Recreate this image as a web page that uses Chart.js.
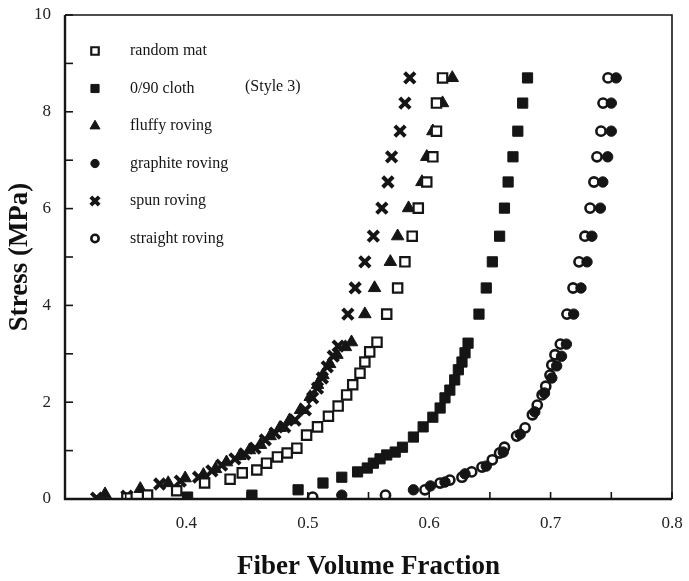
<!DOCTYPE html>
<html>
<head>
<meta charset="utf-8">
<script src="https://cdn.jsdelivr.net/npm/chart.js@4.4.0/dist/chart.umd.min.js"></script>
<style>
  html, body { margin: 0; padding: 0; background: #fff; }
  #wrap { width: 689px; height: 581px; }
</style>
</head>
<body>
<div id="wrap"><canvas id="graphic" width="689" height="581"></canvas></div>
<script>
// stress levels shared by the vertical (upper) part of every curve
const upperStress = [3.82, 4.36, 4.90, 5.43, 6.01, 6.55, 7.07, 7.60, 8.18, 8.70]

const randomUpperX   = [0.565, 0.574, 0.580, 0.586, 0.591, 0.598, 0.603, 0.606, 0.606, 0.611]
const clothUpperX    = [0.641, 0.647, 0.652, 0.658, 0.662, 0.665, 0.669, 0.673, 0.677, 0.681]
const fluffyUpperX   = [0.547, 0.555, 0.568, 0.574, 0.583, 0.594, 0.598, 0.603, 0.611, 0.619]
const graphiteUpperX = [0.719, 0.725, 0.730, 0.734, 0.741, 0.743, 0.747, 0.750, 0.750, 0.754]
const spunUpperX     = [0.533, 0.539, 0.547, 0.554, 0.561, 0.566, 0.569, 0.576, 0.580, 0.584]
const straightUpperX = [0.7135, 0.7185, 0.7234, 0.7283, 0.7325, 0.7357, 0.7382, 0.7415, 0.7432, 0.7473]

// lower (curved) part of each series
const randomLowX = [0.351, 0.368, 0.392, 0.415, 0.436, 0.446, 0.458, 0.466, 0.475, 0.483, 0.491, 0.499, 0.508, 0.517, 0.525, 0.532, 0.537, 0.543, 0.547, 0.551, 0.557]
const randomLowY = [0.02, 0.08, 0.17, 0.33, 0.41, 0.54, 0.60, 0.74, 0.87, 0.95, 1.05, 1.32, 1.49, 1.71, 1.92, 2.15, 2.36, 2.60, 2.83, 3.04, 3.24]

const clothLowX = [0.401, 0.454, 0.492, 0.5125, 0.528, 0.541, 0.549, 0.554, 0.5595, 0.565, 0.572, 0.578, 0.587, 0.595, 0.603, 0.609, 0.613, 0.617, 0.621, 0.624, 0.627, 0.6295, 0.632]
const clothLowY = [0.04, 0.08, 0.19, 0.33, 0.45, 0.56, 0.64, 0.74, 0.83, 0.91, 0.97, 1.07, 1.28, 1.49, 1.69, 1.88, 2.09, 2.25, 2.46, 2.67, 2.83, 3.02, 3.22]

const fluffyLowX = [0.333, 0.362, 0.385, 0.399, 0.414, 0.424, 0.433, 0.444, 0.452, 0.461, 0.469, 0.477, 0.485, 0.494, 0.502, 0.508, 0.5125, 0.518, 0.524, 0.531, 0.536]
const fluffyLowY = [0.10, 0.21, 0.33, 0.43, 0.50, 0.62, 0.76, 0.89, 1.01, 1.12, 1.30, 1.47, 1.63, 1.84, 2.11, 2.36, 2.56, 2.79, 2.98, 3.14, 3.24]

const graphiteLowX = [0.528, 0.587, 0.601, 0.613, 0.6295, 0.647, 0.661, 0.675, 0.687, 0.695, 0.701, 0.705, 0.709, 0.713]
const graphiteLowY = [0.08, 0.19, 0.27, 0.35, 0.52, 0.68, 0.97, 1.34, 1.80, 2.19, 2.50, 2.75, 2.95, 3.20]

const spunLowX = [0.326, 0.351, 0.378, 0.395, 0.410, 0.421, 0.429, 0.440, 0.448, 0.4565, 0.465, 0.473, 0.481, 0.4895, 0.498, 0.504, 0.508, 0.512, 0.516, 0.521, 0.525]
const spunLowY = [0.02, 0.06, 0.31, 0.37, 0.45, 0.58, 0.70, 0.83, 0.93, 1.05, 1.22, 1.36, 1.49, 1.63, 1.84, 2.09, 2.29, 2.50, 2.73, 2.95, 3.16]

const straightLowX = [0.504, 0.564, 0.5965, 0.609, 0.617, 0.627, 0.635, 0.6435, 0.652, 0.658, 0.662, 0.672, 0.679, 0.685, 0.689, 0.693, 0.696, 0.6995, 0.701, 0.7036, 0.708]
const straightLowY = [0.04, 0.08, 0.19, 0.33, 0.39, 0.45, 0.56, 0.66, 0.81, 0.95, 1.07, 1.30, 1.47, 1.74, 1.94, 2.15, 2.33, 2.56, 2.77, 2.98, 3.20]

const seriesNames = ['random mat', '0/90 cloth', 'fluffy roving', 'graphite roving', 'spun roving', 'straight roving']
const xTickValues = [0.4, 0.5, 0.6, 0.7, 0.8]
const yTickValues = [0, 2, 4, 6, 8, 10]

const toPoints = (lowX, lowY, upX) => {
  const pts = lowX.map((x, i) => ({ x: x, y: lowY[i] }))
  upX.forEach((x, i) => pts.push({ x: x, y: upperStress[i] }))
  return pts
}

const ink = '#151515'
const markers = [
  { style: 'rect', radius: 6.6, fill: '#fff', width: 2.2 },
  { style: 'rect', radius: 7.2, fill: ink, width: 1 },
  { style: 'triangle', radius: 7.2, fill: ink, width: 1 },
  { style: 'circle', radius: 5.2, fill: ink, width: 1 },
  { style: 'crossRot', radius: 7.4, fill: ink, width: 4 },
  { style: 'circle', radius: 4.6, fill: '#fff', width: 2.6 }
]

const seriesData = [
  toPoints(randomLowX, randomLowY, randomUpperX),
  toPoints(clothLowX, clothLowY, clothUpperX),
  toPoints(fluffyLowX, fluffyLowY, fluffyUpperX),
  toPoints(graphiteLowX, graphiteLowY, graphiteUpperX),
  toPoints(spunLowX, spunLowY, spunUpperX),
  toPoints(straightLowX, straightLowY, straightUpperX)
]

const serif = '"Liberation Serif", "Times New Roman", serif'

const frameTicks = {
  id: 'frameTicks',
  afterDatasetsDraw(chart) {
    const ctx = chart.ctx
    const a = chart.chartArea
    const xs = chart.scales.x
    const ys = chart.scales.y
    ctx.save()
    ctx.strokeStyle = ink
    ctx.lineWidth = 1.6
    ys.ticks.forEach(t => {
      const py = ys.getPixelForValue(t.value)
      ctx.beginPath(); ctx.moveTo(a.left, py); ctx.lineTo(a.left + 8, py); ctx.stroke()
    })
    xs.ticks.forEach(t => {
      const px = xs.getPixelForValue(t.value)
      ctx.beginPath(); ctx.moveTo(px, a.bottom); ctx.lineTo(px, a.bottom - 7); ctx.stroke()
    })
    ctx.lineWidth = 1.6
    ctx.beginPath()
    ctx.moveTo(a.left, a.top); ctx.lineTo(a.right, a.top); ctx.lineTo(a.right, a.bottom)
    ctx.stroke()
    ctx.lineWidth = 2.4
    ctx.beginPath()
    ctx.moveTo(a.left, a.top); ctx.lineTo(a.left, a.bottom); ctx.lineTo(a.right, a.bottom)
    ctx.stroke()
    ctx.restore()
  }
}

const insideLegend = {
  id: 'insideLegend',
  afterDraw(chart) {
    const ctx = chart.ctx
    const a = chart.chartArea
    ctx.save()
    ctx.font = '16px ' + serif
    ctx.textBaseline = 'middle'
    seriesNames.forEach((name, i) => {
      const m = markers[i]
      const y = a.top + 36 + i * 37.5
      ctx.fillStyle = m.fill
      ctx.strokeStyle = ink
      ctx.lineWidth = m.width
      Chart.helpers.drawPoint(ctx, { pointStyle: m.style, radius: m.radius * 0.8, rotation: 0, borderWidth: m.width }, a.left + 30, y)
      ctx.fillStyle = ink
      ctx.fillText(name, a.left + 65, y)
    })
    ctx.fillText('(Style 3)', a.left + 180, a.top + 36 + 37.5 - 2)
    ctx.restore()
  }
}

const noOverflow = s => {
  s.paddingTop = 0; s.paddingBottom = 0; s.paddingLeft = 0; s.paddingRight = 0
}

const ctx = document.querySelector('#graphic').getContext('2d')

new Chart(ctx, {
  type: 'scatter',
  data: {
    datasets: seriesData.map((pts, i) => ({
      label: seriesNames[i],
      data: pts,
      pointStyle: markers[i].style,
      pointRadius: markers[i].radius,
      pointBackgroundColor: markers[i].fill,
      pointBorderColor: ink,
      pointBorderWidth: markers[i].width,
      showLine: false
    }))
  },
  options: {
    responsive: false,
    animation: false,
    layout: { padding: { top: 15, right: 17, left: 0, bottom: 0 } },
    plugins: { legend: { display: false }, tooltip: { enabled: false } },
    scales: {
      x: {
        type: 'linear',
        min: 0.3,
        max: 0.8,
        afterFit: s => { s.height = 82; noOverflow(s) },
        afterBuildTicks: s => {
          const t = []
          for (let k = 0; k <= 10; k++) t.push({ value: Math.round((0.3 + k * 0.05) * 100) / 100 })
          s.ticks = t
        },
        grid: { display: false, drawTicks: false },
        border: { display: false },
        ticks: {
          padding: 14,
          color: '#222',
          font: { family: serif, size: 17 },
          autoSkip: false,
          maxRotation: 0,
          callback: v => {
            const r = Math.round(v * 10) / 10
            return (Math.abs(v - r) < 1e-6 && xTickValues.includes(r)) ? r.toFixed(1) : ''
          }
        },
        title: {
          display: true,
          text: 'Fiber Volume Fraction',
          color: '#111',
          font: { family: serif, size: 27, weight: 'bold' },
          padding: { top: 0, bottom: -2 }
        }
      },
      y: {
        type: 'linear',
        min: 0,
        max: 10,
        afterFit: s => { s.width = 65; noOverflow(s) },
        grid: { display: false, drawTicks: false },
        border: { display: false },
        ticks: {
          stepSize: 1,
          padding: 14,
          color: '#222',
          font: { family: serif, size: 17 },
          autoSkip: false,
          callback: v => yTickValues.includes(v) ? String(v) : ''
        },
        title: {
          display: true,
          text: 'Stress (MPa)',
          color: '#111',
          font: { family: serif, size: 27, weight: 'bold' },
          padding: { top: 4, bottom: 0 }
        }
      }
    }
  },
  plugins: [frameTicks, insideLegend]
})
</script>
</body>
</html>
